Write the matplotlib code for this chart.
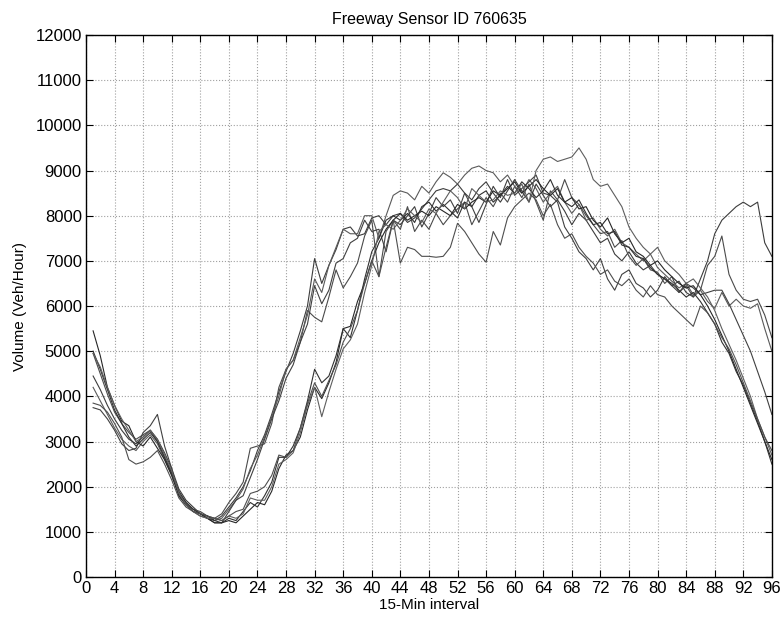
import numpy as np
import matplotlib.pyplot as plt
import matplotlib

matplotlib.rcParams['font.family'] = ['Liberation Sans', 'DejaVu Sans']

# 15-minute interval index (1..96)
interval = np.arange(1, 97)

# daily volume profiles, veh/hour
day_a = [4450, 4150, 3800, 3500, 3250, 3050, 2950, 3100, 3250, 3050,
         2750, 2400, 1950, 1700, 1550, 1400, 1300, 1250, 1350, 1550,
         1750, 2000, 2350, 2800, 3150, 3600, 4100, 4550, 4950, 5450,
         6000, 7050, 6500, 6900, 7250, 7700, 7750, 7550, 7600, 7950,
         8000, 7800, 8000, 8050, 7850, 7950, 8150, 8350, 8550, 8600,
         8550, 8700, 8500, 8350, 8600, 8750, 8500, 8300, 8550, 8800,
         8550, 8300, 8700, 8450, 8200, 8350, 8100, 7800, 8050, 7900,
         7650, 7400, 7500, 7150, 7000, 7200, 6950, 6800, 6900, 6700,
         6600, 6450, 6550, 6300, 6200, 6600, 7000, 7600, 7900, 8050,
         8200, 8300, 8200, 8300, 7400, 7100]
day_b = [4950, 4500, 4050, 3650, 3400, 3200, 3050, 3150, 3250, 3000,
         2650, 2300, 1850, 1650, 1500, 1450, 1350, 1300, 1400, 1650,
         1850, 2100, 2850, 2900, 2950, 3400, 4200, 4600, 4800, 5200,
         5900, 5750, 5650, 6200, 6800, 6400, 6650, 6950, 7550, 7900,
         6650, 7650, 7900, 7700, 8200, 7650, 7900, 7700, 8050, 7800,
         8000, 8150, 8300, 7800, 8100, 8400, 8200, 8500, 8300, 8650,
         8400, 8700, 8300, 7900, 8550, 8350, 8800, 8400, 8250, 8000,
         7800, 7600, 7650, 7300, 7450, 7100, 6900, 7050, 6800, 6750,
         6500, 6650, 6300, 6450, 6200, 6350, 6900, 7100, 7550, 6700,
         6350, 6150, 6100, 6150, 5800, 5300]
day_c = [4200, 3900, 3600, 3300, 3050, 2900, 2800, 3000, 3150, 2950,
         2600, 2250, 1850, 1600, 1500, 1400, 1350, 1250, 1300, 1500,
         1700, 1950, 2400, 2700, 3100, 3550, 4000, 4600, 4800, 5300,
         5800, 6600, 6300, 6900, 7300, 7700, 7600, 7600, 8000, 8000,
         7500, 8000, 8450, 8550, 8500, 8350, 8650, 8500, 8750, 8950,
         8850, 8700, 8900, 9050, 9100, 9000, 8950, 8750, 8900, 8650,
         8500, 8800, 8600, 8300, 8500, 8650, 8300, 8050, 8250, 7900,
         7950, 7700, 7550, 7700, 7400, 7300, 7150, 7000, 7150, 6850,
         6700, 6550, 6400, 6500, 6250, 6350, 6100, 5950, 6300, 6000,
         6150, 6000, 5950, 6050, 5500, 5000]
day_d = [3750, 3700, 3500, 3250, 2950, 2800, 2850, 3200, 3350, 3600,
         2900, 2400, 1800, 1600, 1450, 1350, 1300, 1200, 1200, 1450,
         1700, 1800, 2200, 2600, 3050, 3500, 3900, 4400, 4700, 5200,
         5600, 6450, 6050, 6350, 6950, 7050, 7400, 7500, 7900, 7650,
         7700, 7200, 7900, 7800, 8000, 8200, 7750, 8050, 8400, 8200,
         8350, 8050, 8500, 8200, 7850, 8250, 8650, 8400, 8800, 8450,
         8600, 8750, 8900, 8500, 8450, 8300, 7750, 7500, 7200, 7050,
         6800, 7050, 6600, 6350, 6700, 6800, 6500, 6400, 6200, 6350,
         6650, 6450, 6300, 6500, 6400, 6250, 6300, 6350, 6350, 6050,
         5700, 5350, 5000, 4550, 4100, 3600]
day_e = [5450, 4900, 4200, 3800, 3450, 3350, 3000, 2900, 3100, 2850,
         2600, 2250, 1800, 1600, 1450, 1400, 1300, 1200, 1200, 1250,
         1200, 1350, 1500, 1650, 1600, 1900, 2400, 2700, 2800, 3100,
         3700, 4200, 3950, 4300, 4750, 5500, 5550, 6100, 6500, 7000,
         7400, 7700, 7900, 8050, 7900, 8000, 8100, 8000, 8200, 8100,
         8000, 8250, 8150, 8300, 8400, 8300, 8550, 8450, 8600, 8750,
         8500, 8650, 8800, 8600, 8450, 8600, 8300, 8400, 8150, 8200,
         7900, 7750, 7950, 7600, 7400, 7500, 7200, 7100, 6900, 7000,
         6800, 6650, 6500, 6400, 6450, 6250, 6000, 5700, 5350, 5000,
         4600, 4200, 3800, 3400, 3000, 2600]
day_f = [5000, 4600, 4150, 3700, 3400, 3100, 2900, 3050, 3200, 3000,
         2650, 2300, 1900, 1650, 1500, 1400, 1350, 1250, 1200, 1300,
         1250, 1450, 1650, 1550, 1800, 2100, 2650, 2650, 2900, 3300,
         3900, 4600, 4300, 4450, 4900, 5500, 5300, 5900, 6600, 7200,
         7500, 7900, 8000, 7900, 8050, 7850, 8200, 8300, 8100, 8250,
         8100, 7950, 8300, 8200, 8450, 8550, 8300, 8450, 8650, 8500,
         8750, 8600, 8400, 8550, 8800, 8450, 8300, 8200, 8350, 8050,
         7800, 7850, 7600, 7650, 7350, 7300, 7100, 7050, 6850, 6700,
         6600, 6500, 6350, 6200, 6300, 6100, 5850, 5600, 5200, 4950,
         4550, 4250, 3850, 3450, 3000, 2500]
day_g = [4950, 4650, 4200, 3800, 3500, 3250, 3000, 3100, 3250, 3050,
         2700, 2350, 1850, 1600, 1450, 1350, 1300, 1300, 1250, 1350,
         1300, 1400, 1750, 1700, 1700, 2000, 2500, 2600, 2750, 3200,
         3800, 4200, 3550, 4100, 4600, 5050, 5250, 5600, 6300, 6900,
         7650, 7800, 7700, 7900, 8150, 8000, 7850, 8150, 8050, 8300,
         8550, 8400, 8150, 8600, 8450, 8300, 8350, 8550, 8450, 8500,
         8700, 8300, 9000, 9250, 9300, 9200, 9250, 9300, 9500, 9250,
         8800, 8650, 8700, 8450, 8200, 7750, 7500, 7300, 7150, 7300,
         7000, 6850, 6700, 6500, 6600, 6400, 6200, 5900, 5500, 5150,
         4800, 4400, 4000, 3500, 3100, 2700]
day_h = [3850, 3800, 3650, 3400, 3100, 2600, 2500, 2550, 2650, 2800,
         2500, 2150, 1750, 1550, 1450, 1400, 1350, 1300, 1250, 1350,
         1450, 1500, 1850, 1900, 2000, 2250, 2700, 2650, 2800, 3300,
         3850, 4300, 4000, 4350, 4700, 5200, 5500, 5900, 6500, 7000,
         6650, 7300, 7900, 6950, 7300, 7250, 7100, 7100, 7080, 7100,
         7300, 7830, 7650, 7400, 7150, 6970, 7650, 7350, 7950, 8200,
         8350, 8500, 8350, 8000, 8250, 7800, 7500, 7600, 7300, 7100,
         6950, 6700, 6800, 6550, 6450, 6600, 6350, 6200, 6450, 6250,
         6200, 6000, 5850, 5700, 5550, 6000, 5850, 5600, 5300, 5050,
         4700, 4300, 3900, 3500, 3100, 2800]

days = [day_a, day_b, day_c, day_d, day_e, day_f, day_g, day_h]
shades = ['#3c3c3c', '#4a4a4a', '#5a5a5a', '#404040', '#262626', '#303030', '#5e5e5e', '#4e4e4e']

fig = plt.figure(figsize=(7.83, 6.23), dpi=100)
ax = fig.add_axes([0.1098, 0.0738, 0.876, 0.870])

for vals, c in zip(days, shades):
    ax.plot(interval, vals, color=c, linewidth=0.8)

ax.set_xlim(0, 96)
ax.set_ylim(0, 12000)
ax.set_xticks(np.arange(0, 97, 4))
ax.set_yticks(np.arange(0, 12001, 1000))
ax.grid(True, linestyle=':', color='#a0a0a0', linewidth=0.8)
ax.tick_params(direction='in', top=True, right=True, length=5, labelsize=12, pad=3)
for s in ax.spines.values():
    s.set_linewidth(1.0)

ax.set_title('Freeway Sensor ID 760635', fontsize=11.5, pad=8)
ax.set_xlabel('15-Min interval', fontsize=11, labelpad=1)
ax.set_ylabel('Volume (Veh/Hour)', fontsize=11, labelpad=6)

plt.savefig('out.png', dpi=100)
